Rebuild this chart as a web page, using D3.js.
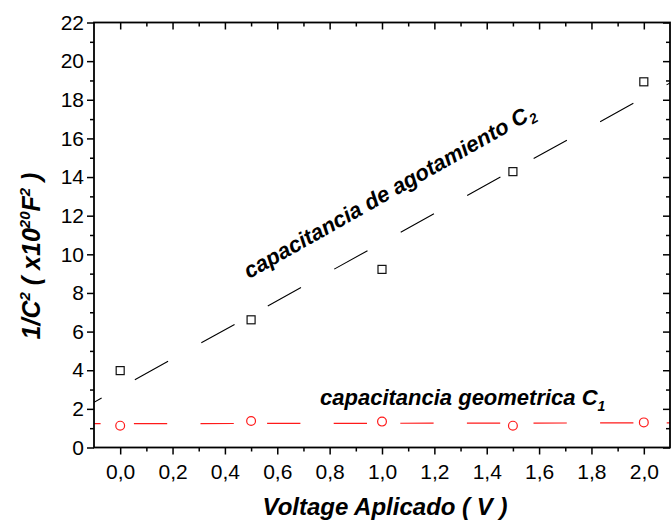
<!DOCTYPE html>
<html>
<head>
<meta charset="utf-8">
<script src="https://cdn.jsdelivr.net/npm/d3@7"></script>
<style>
  html, body { margin: 0; padding: 0; background: #fff; }
  svg { display: block; }
  text { font-family: "Liberation Sans", Arial, sans-serif; }
</style>
</head>
<body>
<svg id="chart" width="671" height="522"></svg>
<script>
// ---- data ----
const voltage = [0.0, 0.5, 1.0, 1.5, 2.0];
const c2Values = [3.98, 6.61, 9.22, 14.28, 18.93];   // capacitancia de agotamiento C2
const c1Values = [1.13, 1.37, 1.34, 1.13, 1.30];     // capacitancia geometrica C1
const xTickValues = [0.0, 0.2, 0.4, 0.6, 0.8, 1.0, 1.2, 1.4, 1.6, 1.8, 2.0];
const xMinorValues = [0.1, 0.3, 0.5, 0.7, 0.9, 1.1, 1.3, 1.5, 1.7, 1.9];
const yTickValues = [0, 2, 4, 6, 8, 10, 12, 14, 16, 18, 20, 22];
const yMinorValues = [1, 3, 5, 7, 9, 11, 13, 15, 17, 19, 21];
const xDomain = [-0.1, 2.1];
const yDomain = [0, 22];

(function () {
const svg = d3.select("#chart");
const pL = 94, pR = 670, pT = 22.5, pB = 447.5;

const x = d3.scaleLinear().domain(xDomain).range([pL, pR]);
const y = d3.scaleLinear().domain(yDomain).range([pB, pT]);

const fmtX = v => d3.format(".1f")(v).replace(".", ",");

// clip
svg.append("defs").append("clipPath").attr("id", "plotclip")
  .append("rect").attr("x", pL).attr("y", pT).attr("width", pR - pL).attr("height", pB - pT);

// linear fits
function linfit(xs, ys) {
  const mx = d3.mean(xs), my = d3.mean(ys);
  let sxy = 0, sxx = 0;
  xs.forEach((xv, i) => { sxy += (xv - mx) * (ys[i] - my); sxx += (xv - mx) * (xv - mx); });
  const b = sxy / sxx;
  return { a: my - b * mx, b: b };
}
const fit2 = linfit(voltage, c2Values);
const fit1 = linfit(voltage, c1Values);
const fitLine = d3.line().x(d => x(d[0])).y(d => y(d[1]));

const plot = svg.append("g").attr("clip-path", "url(#plotclip)");
plot.append("path")
  .datum(xDomain.map(v => [v, fit2.a + fit2.b * v]))
  .attr("d", fitLine)
  .attr("fill", "none").attr("stroke", "#000").attr("stroke-width", 1.1)
  .attr("stroke-dasharray", "38,38").attr("stroke-dashoffset", 29.3);
plot.append("path")
  .datum(xDomain.map(v => [v, fit1.a + fit1.b * v]))
  .attr("d", fitLine)
  .attr("fill", "none").attr("stroke", "#ff1a1a").attr("stroke-width", 1.2)
  .attr("stroke-dasharray", "33.3,33.3").attr("stroke-dashoffset", 26.7);

// markers
const sq = 8;
svg.append("g").selectAll("rect").data(voltage).join("rect")
  .attr("x", (d) => x(d) - sq / 2)
  .attr("y", (d, i) => y(c2Values[i]) - sq / 2)
  .attr("width", sq).attr("height", sq)
  .attr("fill", "#fff").attr("stroke", "#111").attr("stroke-width", 1.2);
svg.append("g").selectAll("circle").data(voltage).join("circle")
  .attr("cx", (d) => x(d))
  .attr("cy", (d, i) => y(c1Values[i]))
  .attr("r", 4.4)
  .attr("fill", "#fff").attr("stroke", "#ff1a1a").attr("stroke-width", 1.2);

// axes
const axisStyle = g => {
  g.select(".domain").remove();
  g.selectAll("line").attr("stroke", "#000").attr("stroke-width", 1.5);
  g.selectAll("text").attr("font-size", 21).attr("fill", "#000")
    .attr("font-family", "'Liberation Sans', Arial, sans-serif");
};
// bottom
svg.append("g").attr("transform", `translate(0,${pB})`)
  .call(d3.axisBottom(x).tickValues(xTickValues).tickSize(7).tickPadding(10).tickFormat(fmtX))
  .call(axisStyle);
svg.append("g").attr("transform", `translate(0,${pB})`)
  .call(d3.axisBottom(x).tickValues(xMinorValues).tickSize(4).tickFormat(""))
  .call(axisStyle);
// top (inward)
svg.append("g").attr("transform", `translate(0,${pT})`)
  .call(d3.axisBottom(x).tickValues(xTickValues).tickSize(7).tickFormat(""))
  .call(axisStyle);
svg.append("g").attr("transform", `translate(0,${pT})`)
  .call(d3.axisBottom(x).tickValues(xMinorValues).tickSize(4).tickFormat(""))
  .call(axisStyle);
// left
svg.append("g").attr("transform", `translate(${pL},0)`)
  .call(d3.axisLeft(y).tickValues(yTickValues).tickSize(7).tickPadding(3).tickFormat(d3.format("d")))
  .call(axisStyle);
svg.append("g").attr("transform", `translate(${pL},0)`)
  .call(d3.axisLeft(y).tickValues(yMinorValues).tickSize(4).tickFormat(""))
  .call(axisStyle);
// right (inward)
svg.append("g").attr("transform", `translate(${pR},0)`)
  .call(d3.axisLeft(y).tickValues(yTickValues).tickSize(7).tickFormat(""))
  .call(axisStyle);
svg.append("g").attr("transform", `translate(${pR},0)`)
  .call(d3.axisLeft(y).tickValues(yMinorValues).tickSize(4).tickFormat(""))
  .call(axisStyle);

// frame
svg.append("rect").attr("x", pL).attr("y", pT)
  .attr("width", pR - pL).attr("height", pB - pT)
  .attr("fill", "none").attr("stroke", "#000").attr("stroke-width", 1.8);

// axis titles
svg.append("text")
  .attr("x", 385).attr("y", 515)
  .attr("text-anchor", "middle")
  .attr("font-size", 24).attr("font-weight", "bold").attr("font-style", "italic")
  .text("Voltage Aplicado ( V )");

const yt = svg.append("text")
  .attr("transform", "translate(40,256) rotate(-90)")
  .attr("text-anchor", "middle")
  .attr("font-size", 25).attr("font-weight", "bold").attr("font-style", "italic");
yt.append("tspan").text("1/C");
yt.append("tspan").attr("font-size", 15).attr("dy", -10).text("2");
yt.append("tspan").attr("dy", 10).text(" ( x10");
yt.append("tspan").attr("font-size", 15).attr("dy", -10).text("20");
yt.append("tspan").attr("dy", 10).text("F");
yt.append("tspan").attr("font-size", 15).attr("dy", -10).text("2");
yt.append("tspan").attr("dy", 10).text(" )");

// annotations
const a2 = svg.append("text")
  .attr("transform", "translate(249,279) rotate(-29.5)")
  .attr("font-size", 22).attr("font-weight", "bold").attr("font-style", "italic");
a2.append("tspan").text("capacitancia de agotamiento C");
a2.append("tspan").attr("font-size", 14).attr("dy", 5).text("2");

const a1 = svg.append("text")
  .attr("x", 320).attr("y", 405)
  .attr("font-size", 22).attr("font-weight", "bold").attr("font-style", "italic");
a1.append("tspan").text("capacitancia geometrica C");
a1.append("tspan").attr("font-size", 14).attr("dy", 6).text("1");
})();
</script>
</body>
</html>
